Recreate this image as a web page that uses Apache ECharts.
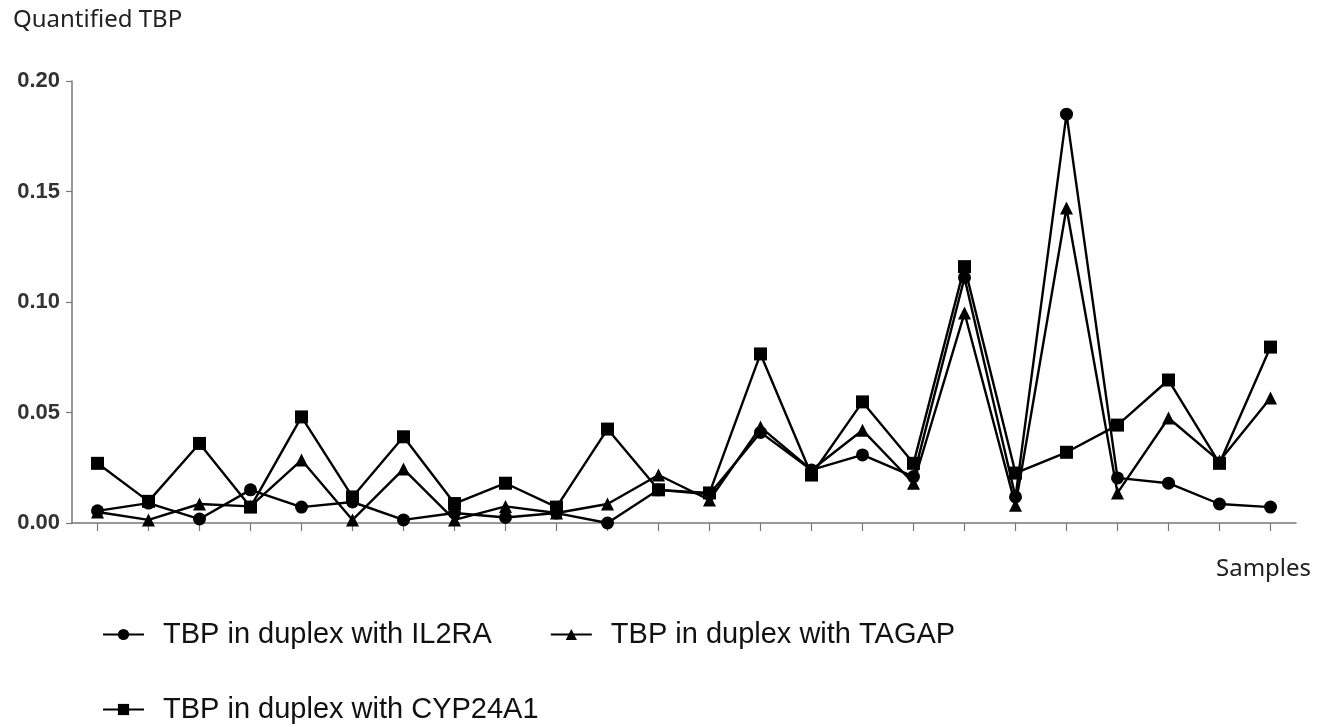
<!DOCTYPE html>
<html>
<head>
<meta charset="utf-8">
<script src="https://cdn.jsdelivr.net/npm/echarts@6/dist/echarts.min.js"></script>
<style>
  html, body { margin: 0; padding: 0; background: #fff; }
  #chart { width: 1332px; height: 727px; }
</style>
</head>
<body>
<div id="chart"></div>
<script>
// samples on the x axis (unlabelled in the figure)
const samples = ['1','2','3','4','5','6','7','8','9','10','11','12','13','14','15','16','17','18','19','20','21','22','23','24'];

const il2ra = [0.0055, 0.009, 0.0018, 0.015, 0.0072, 0.0095, 0.0014, 0.0045, 0.0025, 0.0045, 0, 0.015,
               0.013, 0.041, 0.024, 0.0308, 0.021, 0.111, 0.0118, 0.185, 0.0204, 0.018, 0.0086, 0.0072];
const tagap = [0.005, 0.0014, 0.0086, 0.0075, 0.0285, 0.0014, 0.0244, 0.0014, 0.0075, 0.0045, 0.0086, 0.0217,
               0.0104, 0.0434, 0.024, 0.042, 0.018, 0.095, 0.008, 0.1425, 0.0136, 0.0475, 0.028, 0.0566];
const cyp24a1 = [0.027, 0.0098, 0.036, 0.0072, 0.048, 0.0118, 0.039, 0.0088, 0.018, 0.0072, 0.0425, 0.015,
                 0.0136, 0.0765, 0.0217, 0.0548, 0.027, 0.116, 0.0226, 0.032, 0.0443, 0.0647, 0.027, 0.0796];

const yTicks = [0, 0.05, 0.10, 0.15, 0.20];

const names = ['TBP in duplex with IL2RA', 'TBP in duplex with TAGAP', 'TBP in duplex with CYP24A1'];

let myChart = echarts.init(document.getElementById('chart'));

function lineSeries(name, data, symbol, size) {
    return {
        name: name,
        type: 'line',
        data: data,
        symbol: symbol,
        symbolSize: size,
        showAllSymbol: true,
        lineStyle: { color: '#000', width: 2.4 },
        itemStyle: { color: '#000' },
        emphasis: { disabled: true },
        animation: false
    };
}

const legendBase = {
    left: 97,
    orient: 'horizontal',
    itemWidth: 41,
    itemHeight: 14,
    itemGap: 58,
    textStyle: {
        fontFamily: 'Liberation Sans, Arial, sans-serif',
        fontSize: 29,
        color: '#111',
        padding: [0, 0, 0, 14]
    }
};

const option = {
    backgroundColor: '#fff',
    animation: false,
    grid: { left: 72, right: 36, top: 81, bottom: 204, containLabel: false },
    legend: [
        Object.assign({}, legendBase, { top: 615, data: [names[0], names[1]] }),
        Object.assign({}, legendBase, { top: 690, data: [names[2]] })
    ],
    graphic: [
        {
            type: 'text', left: 13, top: 8,
            style: { text: 'Quantified TBP', fontFamily: 'Noto Sans, sans-serif', fontSize: 24, fill: '#222' }
        },
        {
            type: 'text', left: 1216, top: 557,
            style: { text: 'Samples', fontFamily: 'Noto Sans, sans-serif', fontSize: 24, fill: '#222' }
        }
    ],
    xAxis: {
        type: 'category',
        data: samples,
        boundaryGap: true,
        axisLine: { lineStyle: { color: '#777', width: 1.5 } },
        axisTick: { show: true, interval: 0, alignWithLabel: true, length: 8, lineStyle: { color: '#777', width: 1.2 } },
        axisLabel: { show: false, interval: 0 },
        splitLine: { show: false }
    },
    yAxis: {
        type: 'value',
        min: yTicks[0],
        max: yTicks[yTicks.length - 1],
        interval: 0.05,
        axisLine: { show: true, lineStyle: { color: '#777', width: 1.5 } },
        axisTick: { show: true, length: 6, lineStyle: { color: '#777', width: 1.2 } },
        axisLabel: {
            margin: 12,
            fontFamily: 'Liberation Sans, Arial, sans-serif',
            fontWeight: 'bold',
            fontSize: 22,
            color: '#333',
            formatter: v => v.toFixed(2)
        },
        splitLine: { show: false }
    },
    series: [
        lineSeries(names[0], il2ra, 'circle', 13),
        lineSeries(names[1], tagap, 'triangle', 13),
        lineSeries(names[2], cyp24a1, 'rect', 13)
    ]
};

myChart.setOption(option);
</script>
</body>
</html>
